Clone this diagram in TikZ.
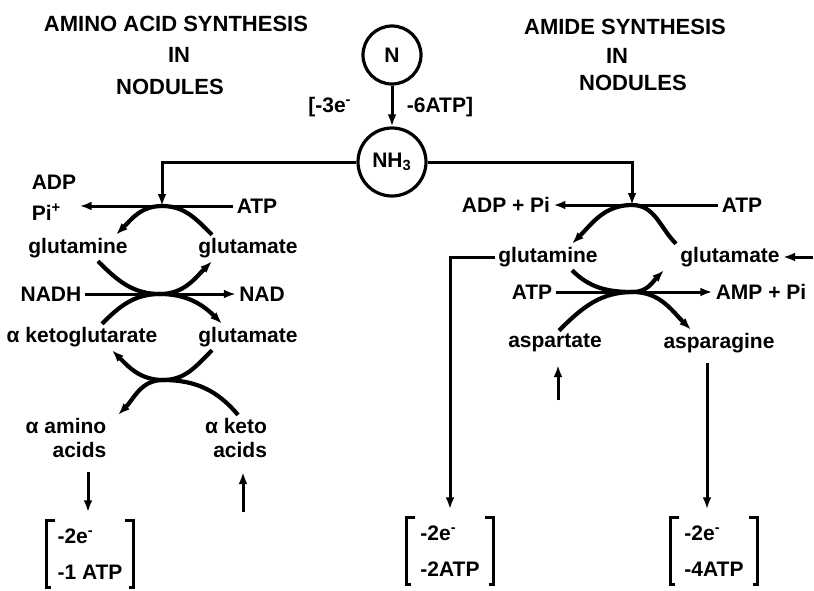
\documentclass[tikz,border=0pt]{standalone}
\usepackage{fontspec}
\setmainfont{Liberation Sans}
\usetikzlibrary{arrows.meta}

\begin{document}
\begin{tikzpicture}[x=0.5pt, y=0.5pt,
  every node/.style={font=\fontsize{10.5}{12}\selectfont\bfseries, inner sep=1.5pt},
  title/.style={font=\fontsize{11}{13}\selectfont\bfseries},
  ring/.style={circle, draw, line width=1.6pt, inner sep=0pt},
  arr/.style={-{Latex[length=6pt, width=4.4pt]}, line width=1.5pt},
  cyc/.style={arr, line width=2.1pt},
  brk/.style={align=left, minimum width=43pt, inner xsep=2pt, inner ysep=4pt, font=\fontsize{10.5}{18}\selectfont\bfseries}]
\useasboundingbox (0,0) rectangle (814,-590);

% headings
\node[title] (lt1) at (176,-24) {AMINO ACID SYNTHESIS};
\node[title] (lt2) at (179,-55) {IN};
\node[title] (lt3) at (170,-87) {NODULES};
\node[title] (rt1) at (625,-27) {AMIDE SYNTHESIS};
\node[title] (rt2) at (617,-56) {IN};
\node[title] (rt3) at (633,-83) {NODULES};

% fixation
\node[ring, minimum size=29pt] (N) at (392,-55) {N};
\node[ring, minimum size=34pt] (nh3) at (392,-162) {NH\textsubscript{3}};
\node (fixe) at (330,-107) {[-3e\textsuperscript{-}};
\node (fixa) at (440,-107) {-6ATP]};
\draw[arr] (N) -- (nh3);

% amino acid side
\coordinate (lx1) at (162,-206);
\coordinate (lx2) at (160,-294);
\coordinate (lx3) at (163,-380);
\node[align=left] (ladp) at (54,-198) {ADP\\[3.5pt]Pi\textsuperscript{+}};
\node (latp) at (257,-206) {ATP};
\node (lgln) at (78,-248) {glutamine};
\node (lglt) at (248,-248) {glutamate};
\node (nadh) at (51,-294) {NADH};
\node (nad) at (262,-294) {NAD};
\node (lkg) at (82,-337) {α ketoglutarate};
\node (lglt2) at (248,-337) {glutamate};
\node[align=right] (amino) at (66,-438) {α amino\\acids};
\node[align=right] (keto) at (236,-438) {α keto\\acids};

\draw[arr] (nh3.west) -| (lx1);
\draw[arr] (latp.west) -- (latp.west -| ladp.east);
\draw[arr] (nadh.east) -- (nad.west);
\draw[cyc] ([xshift=-18]lglt.north) to[out=135,in=0] (lx1) to[out=180,in=45] ([xshift=19]lgln.north);
\draw[cyc] ([xshift=10]lgln.south) to[out=-45,in=180] (lx2) to[out=0,in=-135] ([xshift=-18]lglt.south);
\draw[cyc] ([xshift=10]lkg.north) to[out=45,in=180] (lx2) to[out=0,in=135] ([xshift=-13]lglt2.north);
\draw[cyc] ([xshift=-18]lglt2.south) to[out=-135,in=0] (lx3) to[out=180,in=-45] ([xshift=15]lkg.south);
\draw[cyc] ([xshift=1]keto.north) to[out=130,in=0] (lx3) to[out=180,in=45] ([xshift=26]amino.north);

% amide side
\coordinate (rx1) at (632,-205);
\coordinate (rx2) at (633,-292);
\node (radp) at (506,-205) {ADP + Pi};
\node (ratp) at (742,-205) {ATP};
\node (rgln) at (548,-257) {glutamine};
\node (rglt) at (730,-257) {glutamate};
\node (ratp2) at (532,-292) {ATP};
\node (ramp) at (761,-292) {AMP + Pi};
\node (rasp) at (555,-343) {aspartate};
\node (rasn) at (719,-343) {asparagine};
\coordinate (gin) at (813,-257);

\draw[arr] (nh3.east) -| (rx1);
\draw[arr] (ratp.west) -- (radp.east);
\draw[arr] (ratp2.east) -- (ramp.west);
\draw[arr] (gin) -- (rglt.east);
\draw[cyc] ([xshift=-27]rglt.north) to[out=135,in=0] (rx1) to[out=180,in=45] ([xshift=12]rgln.north);
\draw[cyc] ([xshift=12]rgln.south) to[out=-45,in=180] (rx2) to[out=0,in=-135] ([xshift=-33]rglt.south);
\draw[cyc] ([xshift=2]rasp.north) to[out=45,in=180] (rx2) to[out=0,in=135] ([xshift=-14]rasn.north);

% costs
\node[brk] (b1) at (90,-554) {-2e\textsuperscript{-}\\-1 ATP};
\node[brk] (b2) at (450,-551) {-2e\textsuperscript{-}\\-2ATP};
\node[brk] (b3) at (714,-551) {-2e\textsuperscript{-}\\-4ATP};
\foreach \b in {b1,b2,b3} {
  \draw[line width=1.5pt] ([xshift=4]\b.north west) -| (\b.south west) -- ++(4,0);
  \draw[line width=1.5pt] ([xshift=-4]\b.north east) -| (\b.south east) -- ++(-4,0);
}
\coordinate (aa0) at (88,-472);
\coordinate (ka0) at (243,-512);
\coordinate (ka1) at (243,-472);
\coordinate (asp0) at (558,-400);
\coordinate (asp1) at (558,-365);
\coordinate (an0) at (707,-363);
\draw[arr, shorten >=4pt] (aa0) -- (aa0 |- b1.north);
\draw[arr] (ka0) -- (ka1);
\draw[arr] (asp0) -- (asp1);
\draw[arr, shorten >=4pt] (rgln.west) -| (b2.north);
\draw[arr, shorten >=4pt] (an0) -- (an0 |- b3.north);
\end{tikzpicture}
\end{document}
